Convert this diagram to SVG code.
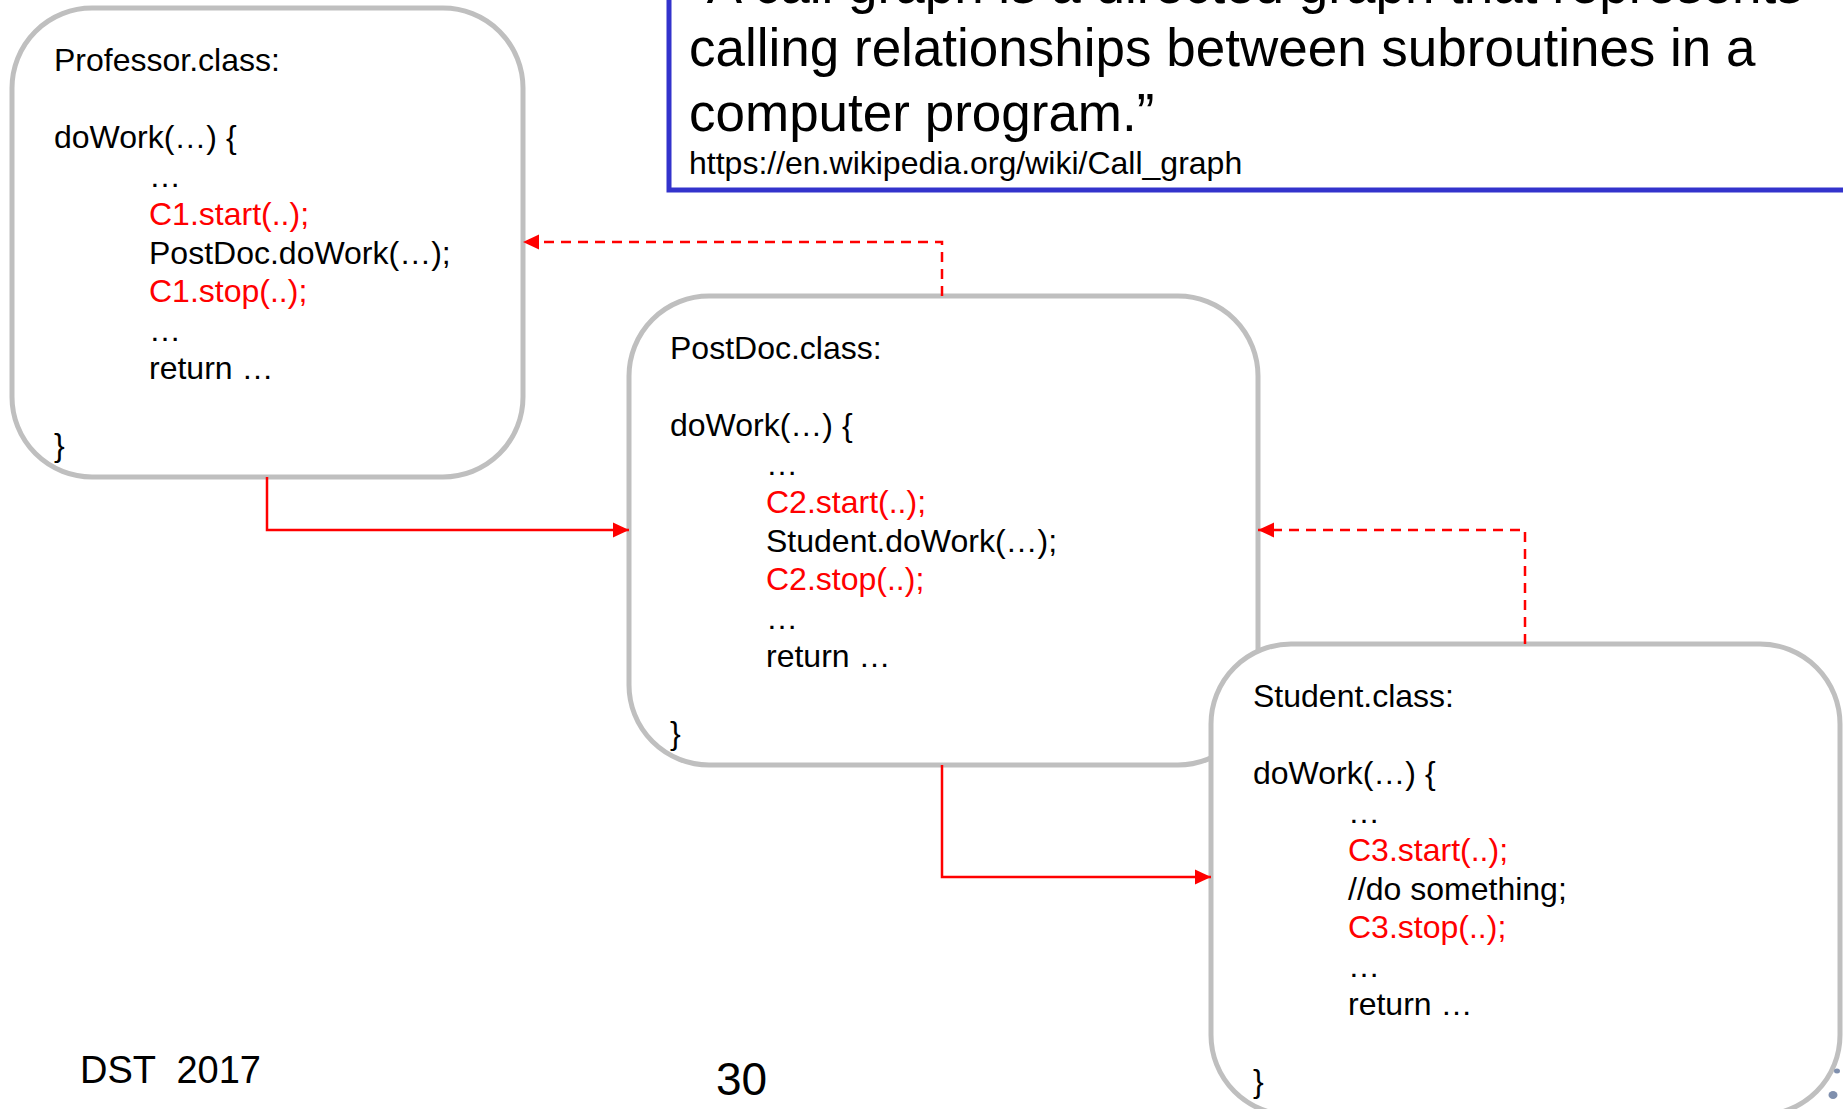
<svg xmlns="http://www.w3.org/2000/svg" width="1843" height="1109" viewBox="0 0 1843 1109">
  <style>
    .box { fill: #ffffff; stroke: #bfbfbf; stroke-width: 5; }
    .code { font-family: "Liberation Sans", Arial, sans-serif; font-size: 32px; fill: #000000; }
    .hl { fill: #ff0000; }
    .quote { font-family: "Liberation Sans", Arial, sans-serif; font-size: 53px; fill: #000000; }
    .url { font-family: "Liberation Sans", Arial, sans-serif; font-size: 32px; fill: #000000; }
    .foot { font-family: "Liberation Sans", Arial, sans-serif; fill: #000000; white-space: pre; }
    .call { fill: none; stroke: #ff0000; stroke-width: 2.5; marker-end: url(#head); }
    .ret { fill: none; stroke: #ff0000; stroke-width: 2.5; stroke-dasharray: 10 7; marker-end: url(#head); }
  </style>
  <defs>
    <marker id="head" markerUnits="userSpaceOnUse" markerWidth="18" markerHeight="18" refX="16" refY="8" orient="auto">
      <path d="M0,0.5 L16,8 L0,15.5 Z" fill="#ff0000"/>
    </marker>
  </defs>

  <rect width="1843" height="1109" fill="#ffffff"/>

  <!-- quotation box, cut by the top and right edges -->
  <g id="quote">
    <rect x="669" y="-20" width="1220" height="210" fill="#ffffff" stroke="#3333cc" stroke-width="5"/>
    <text class="quote" x="689" y="3">“A call graph is a directed graph that represents</text>
    <text class="quote" x="689" y="66">calling relationships between subroutines in a</text>
    <text class="quote" x="689" y="131">computer program.”</text>
    <text class="url" x="689" y="174">https://en.wikipedia.org/wiki/Call_graph</text>
  </g>

  <!-- class nodes -->
  <g id="professor">
    <rect class="box" x="12" y="8" width="511" height="469" rx="80" ry="80"/>
    <text class="code">
      <tspan x="54" y="70.5">Professor.class:</tspan>
      <tspan x="54" y="148">doWork(…) {</tspan>
      <tspan x="149" y="186.5">…</tspan>
      <tspan x="149" y="225" class="hl">C1.start(..);</tspan>
      <tspan x="149" y="263.5">PostDoc.doWork(…);</tspan>
      <tspan x="149" y="302" class="hl">C1.stop(..);</tspan>
      <tspan x="149" y="340.5">…</tspan>
      <tspan x="149" y="379">return …</tspan>
      <tspan x="54" y="456">}</tspan>
    </text>
  </g>

  <g id="postdoc">
    <rect class="box" x="629" y="296" width="629" height="469" rx="80" ry="80"/>
    <text class="code">
      <tspan x="670" y="359">PostDoc.class:</tspan>
      <tspan x="670" y="436">doWork(…) {</tspan>
      <tspan x="766" y="474.5">…</tspan>
      <tspan x="766" y="513" class="hl">C2.start(..);</tspan>
      <tspan x="766" y="551.5">Student.doWork(…);</tspan>
      <tspan x="766" y="590" class="hl">C2.stop(..);</tspan>
      <tspan x="766" y="628.5">…</tspan>
      <tspan x="766" y="667">return …</tspan>
      <tspan x="670" y="744">}</tspan>
    </text>
  </g>

  <g id="student">
    <rect class="box" x="1211" y="644" width="629" height="471" rx="80" ry="80"/>
    <text class="code">
      <tspan x="1253" y="707">Student.class:</tspan>
      <tspan x="1253" y="784">doWork(…) {</tspan>
      <tspan x="1348" y="822.5">…</tspan>
      <tspan x="1348" y="861" class="hl">C3.start(..);</tspan>
      <tspan x="1348" y="899.5">//do something;</tspan>
      <tspan x="1348" y="938" class="hl">C3.stop(..);</tspan>
      <tspan x="1348" y="976.5">…</tspan>
      <tspan x="1348" y="1015">return …</tspan>
      <tspan x="1253" y="1092">}</tspan>
    </text>
  </g>

  <!-- calls (solid) and returns (dashed) -->
  <g id="connectors">
    <path class="call" d="M267,477 V530 H629"/>
    <path class="ret" d="M942,296 V242 H523"/>
    <path class="call" d="M942,765 V877 H1211"/>
    <path class="ret" d="M1525,644 V530 H1258"/>
  </g>

  <!-- footer -->
  <g id="footer">
    <text class="foot" x="80" y="1083" font-size="38">DST  2017</text>
    <text class="foot" x="716" y="1095" font-size="46">30</text>
    <ellipse cx="1837" cy="1071" rx="3" ry="2.5" fill="#5f7398" opacity="0.8"/>
    <ellipse cx="1833" cy="1095" rx="4.5" ry="4" fill="#5f7398" opacity="0.8"/>
  </g>
</svg>
